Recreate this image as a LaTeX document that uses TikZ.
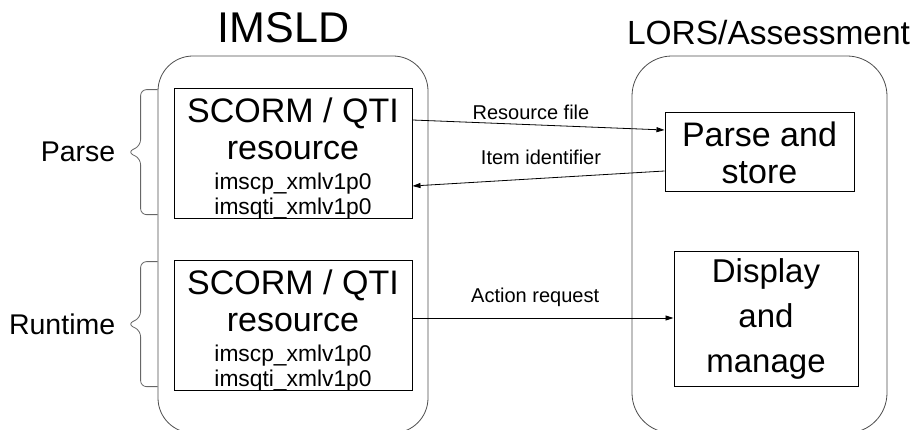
\documentclass[tikz,border=0pt]{standalone}
\usepackage{fontspec}
\setmainfont{Liberation Sans}
\usetikzlibrary{arrows.meta}
\newcommand{\fonttitle}{\fontsize{43}{48}\selectfont}
\newcommand{\fontsub}{\fontsize{33.5}{38}\selectfont}
\newcommand{\fontbig}{\fontsize{34}{37}\selectfont}
\newcommand{\fontsmall}{\fontsize{22.8}{25}\selectfont}
\newcommand{\fontflow}{\fontsize{20}{23}\selectfont}
\newcommand{\fontphase}{\fontsize{28.5}{32}\selectfont}
\tikzset{
    container/.style = {
        rectangle,
        rounded corners=35pt,
        draw=black!70,
        line width=0.8pt,
        minimum width=270pt,
        minimum height=377pt,
        inner sep=0pt
    },
    resbox/.style = {
        rectangle,
        draw=black,
        line width=1pt,
        align=center,
        font=\fontbig,
        inner sep=0pt,
        minimum width=238pt,
        minimum height=129pt
    },
    lorsbox/.style = {
        resbox,
        minimum width=189pt,
        minimum height=79pt
    },
    title/.style = {
        anchor=base,
        inner sep=0pt
    },
    flow/.style = {
        -{Triangle[length=8pt,width=5pt]},
        line width=0.8pt
    },
    flowlabel/.style = {
        font=\fontflow,
        inner sep=0pt,
        above=5pt
    },
    phasebrace/.style = {
        draw=black!60,
        line width=0.8pt,
        rounded corners=6pt
    },
    phaselabel/.style = {
        font=\fontphase,
        inner sep=0pt,
        left=12pt
    }
}
\begin{document}
\begin{tikzpicture}[x=1pt, y=-1pt]
    \useasboundingbox (0,0) rectangle (916,430);
    % the two systems
    \node [container] (imsld) at (293,244.5) {};
    \node [container, rounded corners=40pt, minimum width=255pt] (lors) at (759.5,244.5) {};
    \node [title, font=\fonttitle] (imsldtitle) at (283.5,43) {IMSLD};
    \node [title, font=\fontsub] (lorstitle) at (768.5,45) {LORS/Assessment};

    % resources on the IMSLD side
    \node [resbox] (parseres) at (293,153.5) {\rule{0pt}{34pt}SCORM / QTI\\resource\\[-7pt]{\fontsmall imscp\_xmlv1p0}\\[-12pt]{\fontsmall imsqti\_xmlv1p0}};
    \node [resbox] (runres) at (293,325.5) {\rule{0pt}{34pt}SCORM / QTI\\resource\\[-7pt]{\fontsmall imscp\_xmlv1p0}\\[-12pt]{\fontsmall imsqti\_xmlv1p0}};

    % services on the LORS side
    \node [lorsbox] (parsestore) at (759.5,152.5) {Parse and\\store};
    \node [lorsbox, font=\fontsize{33}{45}\selectfont, minimum width=184pt, minimum height=134pt] (display) at (766,319) {Display\\and\\manage};

    % messages
    \draw [flow] ([yshift=33.5pt]parseres.east) -- ([yshift=22.5pt]parsestore.west)
        node [flowlabel, pos=0.47] {Resource file};
    \draw [flow] ([yshift=-18.5pt]parsestore.west) -- ([yshift=-32.5pt]parseres.east)
        node [flowlabel, pos=0.49, above=8pt] {Item identifier};
    \draw [flow] ([yshift=7.5pt]runres.east) -- ([yshift=1pt]display.west)
        node [flowlabel, pos=0.47, above=6pt] {Action request};

    % phases
    \draw [phasebrace] (imsld.west |- parseres.north) ++(0,2) -- ++(-17,0) -- ++(0,56)
        -- ++(-13,6.5) node [phaselabel] {Parse} -- ++(13,6.5) -- ++(0,56) -- ++(17,0);
    \draw [phasebrace] (imsld.west |- runres.north) ++(0,2) -- ++(-17,0) -- ++(0,56)
        -- ++(-13,6.5) node [phaselabel] {Runtime} -- ++(13,6.5) -- ++(0,56) -- ++(17,0);
\end{tikzpicture}
\end{document}
